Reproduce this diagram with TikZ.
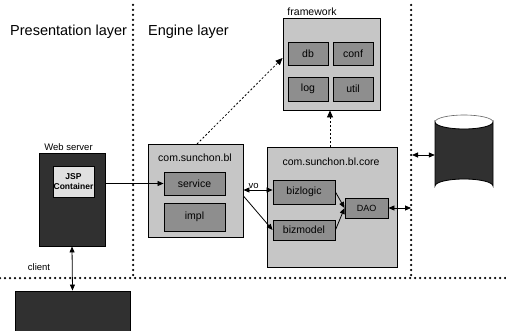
\documentclass[tikz,border=0pt]{standalone}
\usepackage{fontspec}
\setmainfont{Liberation Sans}
\usetikzlibrary{arrows.meta}
\definecolor{lightbox}{HTML}{C6C6C6}
\definecolor{midbox}{HTML}{8E8E8E}
\definecolor{darkbox}{HTML}{303030}
\tikzset{
  box/.style={draw=black, line width=0.9pt, minimum width=#1, inner sep=0pt},
  outer/.style={box=10pt, fill=lightbox},
  inner/.style={box=10pt, fill=midbox, font=\fontsize{10.5}{12}\selectfont},
  darkb/.style={box=10pt, fill=darkbox},
  lbl/.style={inner sep=0pt, font=\fontsize{9.5}{11}\selectfont},
  layer/.style={inner sep=0pt, anchor=west, font=\fontsize{14.5}{16}\selectfont},
  sep/.style={line width=2.5pt, line cap=round, dash pattern=on 0pt off 5pt},
  tip/.style={-{Triangle[length=6pt,width=5pt]}, line width=0.8pt},
  tips/.style={{Triangle[length=6pt,width=5pt]}-{Triangle[length=6pt,width=5pt]}, line width=0.8pt},
  dtip/.style={-{Triangle[length=7pt,width=6pt]}, line width=0.8pt, dash pattern=on 2pt off 2pt},
}
\begin{document}
\begin{tikzpicture}[x=1pt,y=-1pt]
\useasboundingbox (0,0) rectangle (506,331);
% separators
\coordinate (v1t) at (133,5); \coordinate (v1b) at (133,278);
\coordinate (v2t) at (411,5); \coordinate (v2b) at (411,278);
\coordinate (hl) at (0,278); \coordinate (hr) at (506,278);
\draw[sep] (v1t) -- (v1b);
\draw[sep] (v2t) -- (v2b);
\draw[sep] (hl) -- (hr);
% layer titles
\node[layer] (pl) at (10,32) {Presentation layer};
\node[layer] (el) at (148,32) {Engine layer};
% framework
\node[lbl, font=\fontsize{10.5}{12}\selectfont] (fwl) at (312,12) {framework};
\node[outer, minimum width=97, minimum height=92] (fw) at (331.5,64) {};
\node[inner, minimum width=40, minimum height=23] (db) at (308,53.5) {db};
\node[inner, minimum width=40, minimum height=23] (conf) at (353,53.5) {conf};
\node[inner, minimum width=40, minimum height=24] (log) at (308,89) {log};
\node[inner, minimum width=40, minimum height=24] (util) at (353,89) {util};
% web server
\node[lbl] (wsl) at (68.5,147) {Web server};
\node[darkb, minimum width=66, minimum height=93] (ws) at (72,199.5) {};
\node[box=41, fill=black!12, minimum height=31, align=center,
      font=\bfseries\fontsize{8.5}{10}\selectfont] (jsp) at (73.5,181.5) {JSP\\Container};
% client
\node[lbl] (cl) at (39,267) {client};
\node[darkb, minimum width=115, minimum height=44] (client) at (72.5,313) {};
% com.sunchon.bl
\node[outer, minimum width=95, minimum height=93] (bl) at (195.5,190.5) {};
\node[lbl, font=\fontsize{10.5}{12}\selectfont] (bll) at (195,158) {com.sunchon.bl};
\node[inner, minimum width=61, minimum height=23] (service) at (194.5,183.5) {service};
\node[inner, minimum width=61, minimum height=28] (impl) at (194.5,217) {impl};
% core
\node[outer, minimum width=130, minimum height=120] (core) at (332,207) {};
\node[lbl, font=\fontsize{10.5}{12}\selectfont] (corel) at (331,162) {com.sunchon.bl.core};
\node[inner, minimum width=62, minimum height=24] (bizlogic) at (304,192) {bizlogic};
\node[inner, minimum width=62, minimum height=20] (bizmodel) at (304,230) {bizmodel};
\node[inner, minimum width=43, minimum height=20, font=\fontsize{9}{10}\selectfont] (dao) at (366.5,208) {DAO};
% database cylinder
\node[minimum width=58, minimum height=78, inner sep=0pt] (dbs) at (464,154) {};
\fill[darkbox, draw=black, line width=0.8pt]
  (435,122) -- (435,186) arc[start angle=180, end angle=360, x radius=29, y radius=7]
  -- (493,122) arc[start angle=0, end angle=180, x radius=29, y radius=7] -- cycle;
\draw[black!60, line width=0.6pt] (435,122) arc[start angle=180, end angle=360, x radius=29, y radius=7];
% connectors
\draw[tip] (ws.east |- service.west) -- (service.west);
\draw[tips] (ws.south) -- (client.north);
\coordinate (blo) at (243,190);
\draw[tips] (bl.east |- blo) -- (bizlogic.west |- blo) node[lbl, pos=0.35, above=1pt] (vo) {vo};
\coordinate (blo2) at (243,196);
\draw[tip] (bl.east |- blo2) -- (bizmodel.west);
\draw[tip] (bizlogic.east) -- (dao.west);
\draw[tip] (bizmodel.east) -- (dao.west);
\coordinate (daoend) at (411,208);
\draw[tips] (dao.east) -- (daoend);
\coordinate (dbstart) at (412,155);
\draw[tips] (dbstart) -- (dbs.west |- dbstart);
\coordinate (blt) at (197,144);
\draw[dtip] (blt) -- (fw.west |- 0,58);
\draw[dtip] (core.north -| 330,0) -- (fw.south -| 330,0);
\end{tikzpicture}
\end{document}
